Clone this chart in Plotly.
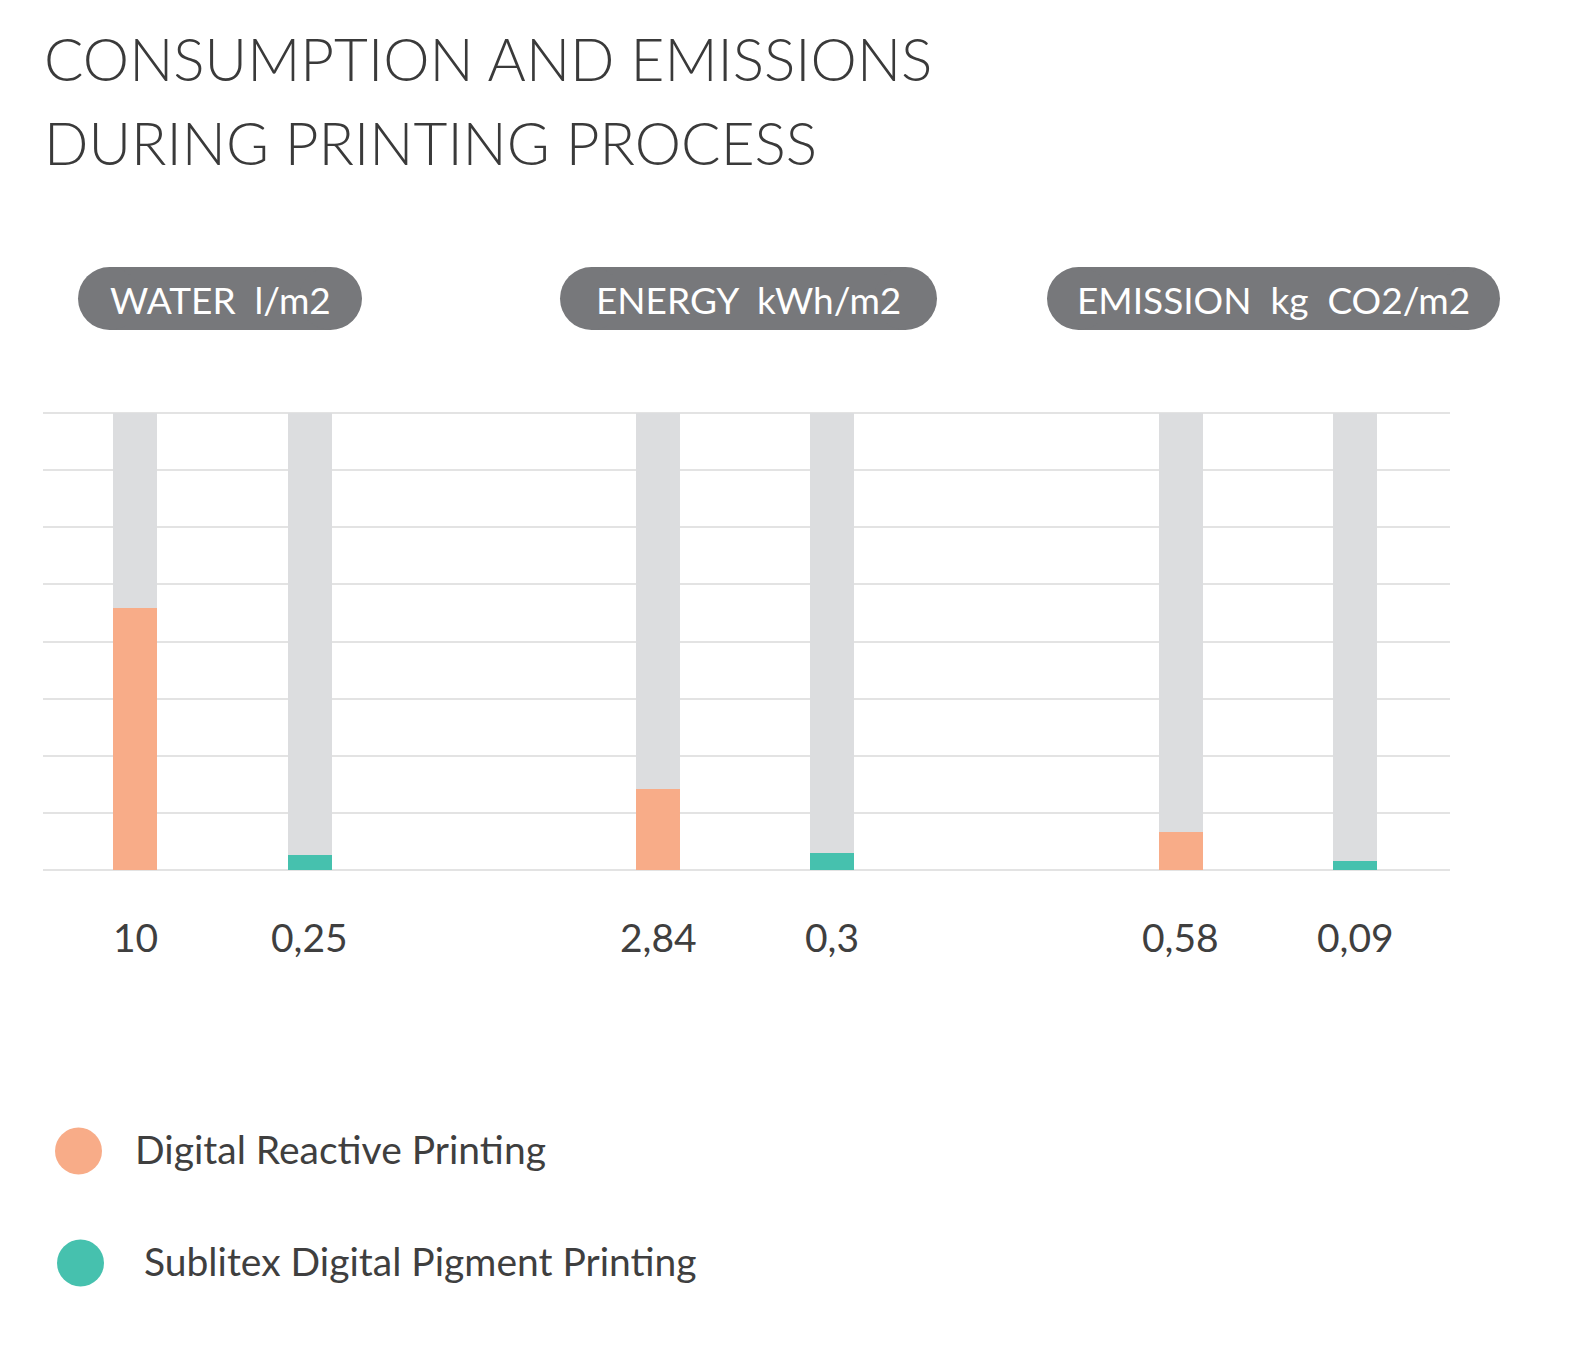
import plotly.graph_objects as go

# ---------------- data ----------------
metrics = ["WATER\u00a0 l/m2", "ENERGY\u00a0 kWh/m2", "EMISSION\u00a0 kg\u00a0 CO2/m2"]
series_names = ["Digital Reactive Printing", "Sublitex Digital Pigment Printing"]
series_colors = ["#F8AC88", "#46C1AE"]
# printed values under each bar (reactive, pigment) per metric
reactive_labels = ["10", "2,84", "0,58"]
pigment_labels = ["0,25", "0,3", "0,09"]
# bar heights as drawn, read on the 8-step gridline scale
reactive_heights = [4.59, 1.42, 0.67]
pigment_heights = [0.26, 0.30, 0.15]
grid_steps = 8

# ---------------- layout helpers ----------------
W, H = 1574, 1359
def px(x):
    return x / W
def py(y):
    return 1 - y / H

TRACK = "#DCDDDF"
GRID = "#E3E3E3"
PILL = "#77787B"
TEXT = "#3F3F3F"
FONT = "Lato"

# plot area in pixels
PL, PR, PT, PB = 43, 1450, 413, 870
pad = 3  # px of padding so top/bottom gridlines are drawn
unit = grid_steps / (PB - PT)
y_range = [-pad * unit, grid_steps + pad * unit]

slots_per_group = 3
x_reactive = [g * slots_per_group + 0 for g in range(len(metrics))]
x_pigment = [g * slots_per_group + 1 for g in range(len(metrics))]
x_range = [-0.53, x_pigment[-1] + 0.545]
bar_w = 0.2526

fig = go.Figure()
all_x = x_reactive + x_pigment
fig.add_trace(go.Bar(x=all_x, y=[grid_steps] * len(all_x), width=bar_w,
                     marker=dict(color=TRACK, line=dict(width=0)),
                     showlegend=False, hoverinfo="skip"))
fig.add_trace(go.Bar(x=x_reactive, y=reactive_heights, width=bar_w, name=series_names[0],
                     marker=dict(color=series_colors[0], line=dict(width=0)), showlegend=False))
fig.add_trace(go.Bar(x=x_pigment, y=pigment_heights, width=bar_w, name=series_names[1],
                     marker=dict(color=series_colors[1], line=dict(width=0)), showlegend=False))

annotations = []
shapes = []

# title
title_lines = ["CONSUMPTION AND EMISSIONS", "DURING PRINTING PROCESS"]
for i, (line, yc) in enumerate(zip(title_lines, [58, 142])):
    annotations.append(dict(text=line, x=px(42), y=py(yc), xref="paper", yref="paper",
                            xanchor="left", yanchor="middle", showarrow=False,
                            font=dict(family=FONT, size=58.5, color="#3A3A3A", weight=300)))

# value labels
for xs, labs in [(x_reactive, reactive_labels), (x_pigment, pigment_labels)]:
    for x, lab in zip(xs, labs):
        annotations.append(dict(text=lab, x=x, y=py(937), xref="x", yref="paper",
                                xanchor="center", yanchor="middle", showarrow=False,
                                font=dict(family=FONT, size=39, color=TEXT)))

# pills
pill_x = [(78, 362), (560, 937), (1047, 1500)]
pt, pb = 267, 330
r = (pb - pt) / 2
for name, (x0, x1) in zip(metrics, pill_x):
    shapes.append(dict(type="rect", xref="paper", yref="paper", x0=px(x0 + r), x1=px(x1 - r),
                       y0=py(pb), y1=py(pt), fillcolor=PILL, line=dict(width=0), layer="below"))
    for cx in (x0 + r, x1 - r):
        shapes.append(dict(type="circle", xref="paper", yref="paper", x0=px(cx - r), x1=px(cx + r),
                           y0=py(pb), y1=py(pt), fillcolor=PILL, line=dict(width=0), layer="below"))
    annotations.append(dict(text=name, x=px((x0 + x1) / 2), y=py((pt + pb) / 2 + 1),
                            xref="paper", yref="paper", xanchor="center", yanchor="middle",
                            showarrow=False, font=dict(family=FONT, size=37, color="white")))

# legend
leg = [((78.5, 1151), 133), ((80.5, 1263), 142)]
for name, col, ((cx, cy), tx) in zip(series_names, series_colors, leg):
    rr = 23.5
    shapes.append(dict(type="circle", xref="paper", yref="paper", x0=px(cx - rr), x1=px(cx + rr),
                       y0=py(cy + rr), y1=py(cy - rr), fillcolor=col, line=dict(width=0)))
    annotations.append(dict(text=name, x=px(tx), y=py(cy - 2), xref="paper", yref="paper",
                            xanchor="left", yanchor="middle", showarrow=False,
                            font=dict(family=FONT, size=39, color=TEXT)))

fig.update_layout(
    width=W, height=H, margin=dict(l=0, r=0, t=0, b=0),
    paper_bgcolor="white", plot_bgcolor="white",
    barmode="overlay", bargap=0,
    showlegend=False,
    xaxis=dict(domain=[px(PL), px(PR)], range=x_range, showgrid=False, zeroline=False,
               showticklabels=False, ticks="", fixedrange=True),
    yaxis=dict(domain=[py(PB + pad), py(PT - pad)], range=y_range, dtick=1, tick0=0,
               showgrid=True, gridcolor=GRID, gridwidth=2, zeroline=True, zerolinecolor=GRID,
               zerolinewidth=2, showticklabels=False, ticks="", fixedrange=True),
    annotations=annotations, shapes=shapes,
)

fig.write_html("out.html", post_script="document.body.style.margin='0';",
               config={"displayModeBar": False})
